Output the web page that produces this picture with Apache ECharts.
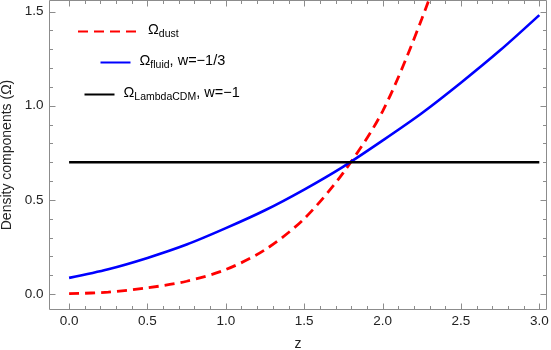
<!DOCTYPE html>
<html>
<head>
<meta charset="utf-8">
<script src="https://cdn.jsdelivr.net/npm/echarts@6/dist/echarts.min.js"></script>
<style>
  html, body { margin: 0; padding: 0; background: #fff; }
  #chart { width: 551px; height: 350px; }
</style>
</head>
<body>
<div id="chart"></div>
<script>
// values
var zValues = [0, 0.25, 0.5, 0.75, 1.0, 1.25, 1.5, 1.75, 2.0, 2.25, 2.5, 2.75, 3.0];
var dustValues = [0.002, 0.01, 0.033, 0.068, 0.13, 0.235, 0.40, 0.645, 0.97, 1.46, 2.05];
var fluidValues = [0.086, 0.132, 0.192, 0.263, 0.35, 0.445, 0.555, 0.677, 0.815, 0.96, 1.122, 1.294, 1.481];
var lambdaZ = [0, 3.0];
var lambdaValues = [0.7, 0.7];

var xMajorTicks = [0, 0.5, 1.0, 1.5, 2.0, 2.5, 3.0];
var xMinorTicks = [0.1, 0.2, 0.3, 0.4, 0.6, 0.7, 0.8, 0.9, 1.1, 1.2, 1.3, 1.4, 1.6, 1.7, 1.8, 1.9,
                   2.1, 2.2, 2.3, 2.4, 2.6, 2.7, 2.8, 2.9];
var yMajorTicks = [0, 0.5, 1.0, 1.5];
var yMinorTicks = [0.1, 0.2, 0.3, 0.4, 0.6, 0.7, 0.8, 0.9, 1.1, 1.2, 1.3, 1.4];

var chartDom = document.getElementById("chart");
var myChart = echarts.init(chartDom);
var option;

var FONT = "Liberation Sans, Arial, sans-serif";
var FRAME = "#8c8c8c";

function pairs(xs, ys) {
  var out = [];
  for (var i = 0; i < ys.length; i++) out.push([xs[i], ys[i]]);
  return out;
}

// tick marks on all four sides of the frame: [x, y, kind]
// kind 0 = major x, 1 = minor x, 2 = major y, 3 = minor y
var tickData = [];
xMajorTicks.forEach(function (v) { tickData.push([v, 0, 0]); });
xMinorTicks.forEach(function (v) { tickData.push([v, 0, 1]); });
yMajorTicks.forEach(function (v) { tickData.push([0, v, 2]); });
yMinorTicks.forEach(function (v) { tickData.push([0, v, 3]); });

function renderTick(params, api) {
  var cs = params.coordSys;
  var kind = api.value(2);
  var len = (kind === 0 || kind === 2) ? 6 : 3.5;
  var style = { stroke: FRAME, lineWidth: 1 };
  if (kind < 2) {
    var px = Math.round(api.coord([api.value(0), 0])[0]) + 0.5;
    var b = cs.y + cs.height;
    return { type: "group", children: [
      { type: "line", shape: { x1: px, y1: b, x2: px, y2: b - len }, style: style },
      { type: "line", shape: { x1: px, y1: cs.y, x2: px, y2: cs.y + len }, style: style }
    ] };
  }
  var py = Math.round(api.coord([0, api.value(1)])[1]) + 0.5;
  var r = cs.x + cs.width;
  return { type: "group", children: [
    { type: "line", shape: { x1: cs.x, y1: py, x2: cs.x + len, y2: py }, style: style },
    { type: "line", shape: { x1: r, y1: py, x2: r - len, y2: py }, style: style }
  ] };
}

var rich = {
  o: { fontSize: 14.5, color: "#000", fontFamily: FONT, verticalAlign: "bottom", lineHeight: 17, padding: [0, 0, 3, 0] },
  s: { fontSize: 10.5, color: "#000", fontFamily: FONT, verticalAlign: "bottom", lineHeight: 12 }
};

function legendFor(name, left, top, width, label) {
  return {
    data: [name],
    left: left,
    top: top,
    padding: 0,
    itemWidth: width,
    itemHeight: 14,
    itemGap: 0,
    selectedMode: false,
    itemStyle: { opacity: 0 },
    formatter: function () { return label; },
    textStyle: { rich: rich, padding: [0, 0, 0, 4] }
  };
}

option = {
  animation: false,
  textStyle: { fontFamily: FONT },
  grid: {
    left: 49.5, right: 4.5, top: 0.5, bottom: 40.5,
    containLabel: false, outerBoundsMode: "none",
    show: true, borderColor: FRAME, borderWidth: 1, backgroundColor: "transparent"
  },
  xAxis: {
    type: "value",
    min: -0.125,
    max: 3.046,
    axisLine: { show: false, onZero: false },
    axisTick: { show: false },
    axisLabel: {
      customValues: xMajorTicks, margin: 5, fontSize: 13.5, color: "#222", fontFamily: FONT,
      formatter: function (v) { return v.toFixed(1); }
    },
    splitLine: { show: false },
    name: "z",
    nameLocation: "middle",
    nameGap: 28,
    nameTextStyle: { fontSize: 14, color: "#222", fontFamily: FONT }
  },
  yAxis: {
    type: "value",
    min: -0.082,
    max: 1.5585,
    axisLine: { show: false, onZero: false },
    axisTick: { show: false },
    axisLabel: {
      customValues: yMajorTicks, margin: 6, fontSize: 13.5, color: "#222", fontFamily: FONT,
      formatter: function (v) { return v.toFixed(1); }
    },
    splitLine: { show: false },
    name: "Density components (\u03A9)",
    nameLocation: "middle",
    nameGap: 34,
    nameTextStyle: { fontSize: 14, color: "#222", fontFamily: FONT }
  },
  legend: [
    legendFor("dust", 77, 22, 61, "{o|\u03A9}{s|dust}"),
    legendFor("fluid", 99.5, 53, 30, "{o|\u03A9}{s|fluid}{o|, w=\u22121/3}"),
    legendFor("lambda", 83.5, 85, 30, "{o|\u03A9}{s|LambdaCDM}{o|, w=\u22121}")
  ],
  series: [
    {
      name: "ticks",
      type: "custom",
      silent: true,
      clip: false,
      data: tickData,
      renderItem: renderTick,
      z: 5
    },
    {
      name: "dust",
      type: "line",
      data: pairs(zValues, dustValues),
      smooth: 0.3,
      showSymbol: false,
      symbol: "none",
      clip: true,
      lineStyle: { color: "#ff0000", width: 2.8, type: [10, 6] },
      itemStyle: { color: "#ff0000" }
    },
    {
      name: "fluid",
      type: "line",
      data: pairs(zValues, fluidValues),
      smooth: 0.3,
      showSymbol: false,
      symbol: "none",
      lineStyle: { color: "#0000ff", width: 2.6 },
      itemStyle: { color: "#0000ff" }
    },
    {
      name: "lambda",
      type: "line",
      data: pairs(lambdaZ, lambdaValues),
      showSymbol: false,
      symbol: "none",
      lineStyle: { color: "#000000", width: 2.6 },
      itemStyle: { color: "#000000" }
    }
  ]
};

option && myChart.setOption(option);
</script>
</body>
</html>
